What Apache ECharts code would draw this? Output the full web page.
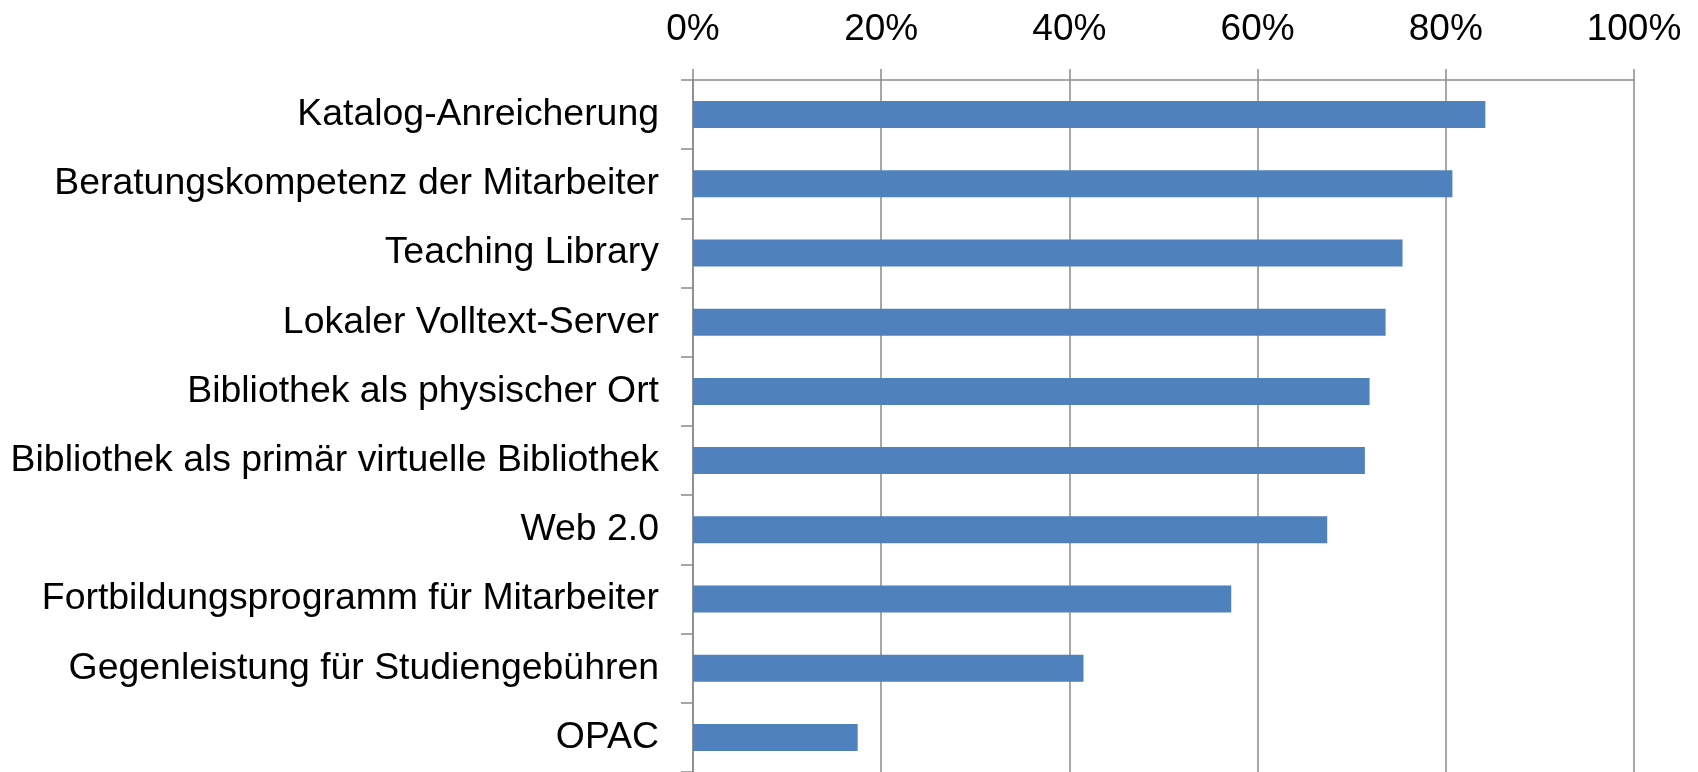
<!DOCTYPE html>
<html>
<head>
<meta charset="utf-8">
<script src="https://cdn.jsdelivr.net/npm/echarts@6/dist/echarts.min.js"></script>
<style>
  html, body { margin: 0; padding: 0; background: #fff; }
  #myChart { width: 1698px; height: 772px; }
</style>
</head>
<body>
<div id="myChart"></div>
<script>
// categories from top to bottom
var categories = [
  'Katalog-Anreicherung',
  'Beratungskompetenz der Mitarbeiter',
  'Teaching Library',
  'Lokaler Volltext-Server',
  'Bibliothek als physischer Ort',
  'Bibliothek als primär virtuelle Bibliothek',
  'Web 2.0',
  'Fortbildungsprogramm für Mitarbeiter',
  'Gegenleistung für Studiengebühren',
  'OPAC'
];
// share of answers (0..1)
var values = [0.842, 0.807, 0.754, 0.736, 0.719, 0.714, 0.674, 0.572, 0.415, 0.175];
var xTicks = [0, 0.2, 0.4, 0.6, 0.8, 1];

var gridColor = '#8a8a8a';
var fontFamily = '"Liberation Sans", Arial, sans-serif';

var myChart = echarts.init(document.getElementById('myChart'));
myChart.setOption({
  animation: false,
  grid: {
    left: 693,
    right: 64,
    top: 80,
    bottom: -3,
    containLabel: false
  },
  xAxis: {
    type: 'value',
    position: 'top',
    min: xTicks[0],
    max: xTicks[xTicks.length - 1],
    interval: xTicks[1] - xTicks[0],
    axisLine: { show: true, lineStyle: { color: gridColor, width: 1.5 } },
    axisTick: { show: true, length: 11, lineStyle: { color: gridColor, width: 1.5 } },
    splitLine: { show: true, lineStyle: { color: gridColor, width: 1.5 } },
    axisLabel: {
      color: '#000',
      fontSize: 37,
      fontFamily: fontFamily,
      margin: 32,
      formatter: function (v) { return Math.round(v * 100) + '%'; }
    }
  },
  yAxis: {
    type: 'category',
    inverse: true,
    data: categories,
    axisLine: { show: true, lineStyle: { color: gridColor, width: 1.5 } },
    axisTick: { show: true, length: 12, lineStyle: { color: gridColor, width: 1.5 } },
    axisLabel: {
      color: '#000',
      fontSize: 37.4,
      fontFamily: fontFamily,
      margin: 34
    }
  },
  series: [{
    type: 'bar',
    data: values,
    barWidth: 27,
    itemStyle: { color: '#4F81BD' }
  }]
});
</script>
</body>
</html>
